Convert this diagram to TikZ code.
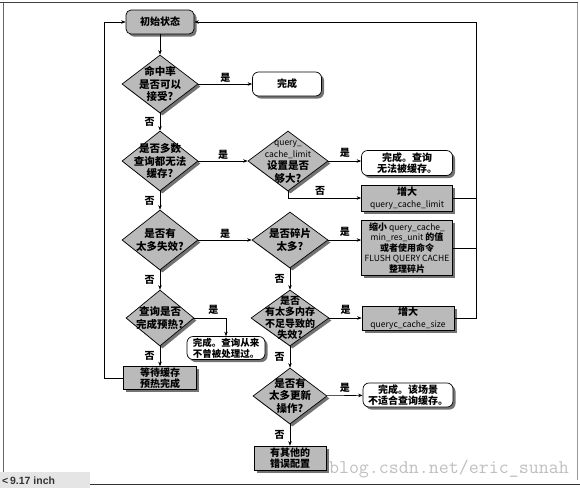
\documentclass[tikz,border=0pt]{standalone}
\usepackage{fontspec}
\setmainfont{Noto Sans CJK SC}
\newfontfamily\uifont{Liberation Sans}
\usetikzlibrary{shapes.geometric,shadows,arrows.meta}
\newcommand\latx{\fontsize{8.5}{10}\selectfont\mdseries}
\tikzset{
  shd/.style={drop shadow={shadow xshift=2.5pt,shadow yshift=-2.5pt,fill=black!55,opacity=1}},
  dia/.style={diamond,draw,fill=black!27,line width=0.7pt,inner sep=0pt,shd},
  dtext/.style={font=\fontsize{10.5}{12.3}\selectfont\bfseries,align=center,inner sep=0pt},
  grect/.style={rectangle,draw,fill=black!27,line width=0.7pt,inner sep=0pt,align=center,
    font=\fontsize{10}{11.5}\selectfont\bfseries,shd},
  wbox/.style={rectangle,rounded corners=6pt,draw,fill=white,line width=0.7pt,inner sep=0pt,
    align=center,font=\fontsize{10}{11.5}\selectfont\bfseries,shd},
  arr/.style={-{Stealth[length=4.5pt,width=3.5pt]},line width=0.6pt},
  ln/.style={line width=0.6pt},
  lbl/.style={font=\fontsize{10}{12}\selectfont\bfseries,inner sep=1pt}
}
\begin{document}
\begin{tikzpicture}[x=1pt,y=-1pt]
\useasboundingbox (0,0) rectangle (580,488);
% frame
\draw[line width=1pt,black!75] (0,2.5) -- (578,2.5);
\draw[line width=0.8pt,black!60] (3.5,2.5) -- (3.5,472);
\draw[line width=0.8pt,black!40] (577,2.5) -- (577,480);
\draw[line width=1pt,black!80] (90,484) -- (580,484);
\fill[black!10] (0,472) rectangle (90,488);
\node[font=\uifont\bfseries\fontsize{10.5}{11}\selectfont,text=black!80,anchor=west,inner sep=0pt] (inch) at (2,480.5) {<\,9.17 inch};

% watermark
\node[font=\ttfamily\fontsize{19.4}{20}\selectfont,text=black!25,anchor=base east,inner sep=0pt] (wm) at (569,473) {blog.csdn.net/eric\_sunah};

% nodes
\node[grect,rounded corners=5pt,minimum width=68pt,minimum height=24pt] (start) at (160,22) {初始状态};

\node[dia,minimum width=76pt,minimum height=58pt] (d1) at (160,84) {};
\node[dtext] (d1t) at (d1) {命中率\\是否可以\\接受?};
\node[wbox,minimum width=69pt,minimum height=24pt] (done1) at (287,84) {完成};

\node[dia,minimum width=76pt,minimum height=60pt] (d2) at (160,161) {};
\node[dtext] (d2t) at (d2) {是否多数\\查询都无法\\缓存?};

\node[dia,minimum width=80pt,minimum height=60pt] (d3) at (288,161) {};
\node[dtext] (d3t) at ([yshift=-1pt]d3) {{\latx query\_}\\{\latx cache\_limit}\\设置是否\\够大?};
\node[wbox,minimum width=91pt,minimum height=25pt] (done2) at (407,163) {完成。查询\\无法被缓存。};
\node[grect,minimum width=91pt,minimum height=26pt] (inc1) at (407,198) {增大\\{\latx query\_cache\_limit}};

\node[dia,minimum width=76pt,minimum height=60pt] (d4) at (160,240) {};
\node[dtext] (d4t) at (d4) {是否有\\太多失效?};

\node[dia,minimum width=76pt,minimum height=56pt] (d5) at (290,240) {};
\node[dtext] (d5t) at (d5) {是否碎片\\太多?};
\node[grect,minimum width=91pt,minimum height=55pt,font=\fontsize{9}{10.5}\selectfont\bfseries] (shrink) at (407,248)
  {缩小{\latx\ query\_cache\_}\\{\latx min\_res\_unit} 的值\\或者使用命令\\{\latx FLUSH QUERY CACHE}\\整理碎片};

\node[dia,minimum width=68pt,minimum height=56pt] (d7) at (160,318) {};
\node[dtext] (d7t) at (d7) {查询是否\\完成预热?};
\node[wbox,minimum width=78pt,minimum height=23pt,font=\fontsize{9.5}{11}\selectfont\bfseries] (done3) at (226,348) {完成。查询从来\\不曾被处理过。};
\node[grect,minimum width=73pt,minimum height=23pt] (wait) at (160,378) {等待缓存\\预热完成};

\node[dia,minimum width=78pt,minimum height=56pt] (d6) at (290,318) {};
\node[dtext,font=\fontsize{10}{11.5}\selectfont\bfseries] (d6t) at (d6) {是否\\有太多内存\\不足导致的\\失效?};
\node[grect,minimum width=92pt,minimum height=24pt] (inc2) at (408,318) {增大\\{\latx queryc\_cache\_size}};

\node[dia,minimum width=74pt,minimum height=56pt] (d8) at (290,396) {};
\node[dtext] (d8t) at (d8) {是否有\\太多更新\\操作?};
\node[wbox,minimum width=90pt,minimum height=24pt] (done4) at (408,395) {完成。该场景\\不适合查询缓存。};
\node[grect,minimum width=72pt,minimum height=24pt] (other) at (290,458) {有其他的\\错误配置};

\coordinate (rtop) at (476,22);
\coordinate (ltop) at (104,22);

% connectors
\draw[arr] (start) -- (d1);
\draw[arr] (d1) -- node[lbl,above]{是} (done1);
\draw[arr] (d1) -- node[lbl,left=4pt]{否} (d2);
\draw[arr] (d2) -- node[lbl,above]{是} (d3);
\draw[arr] (d2) -- node[lbl,left=4pt]{否} (d4);
\draw[arr] (d3.east) -- node[lbl,above=2pt]{是} (d3.east -| done2.west);
\draw[arr] (d3.south) |- node[lbl,above=1pt,pos=0.72]{否} (inc1.west);
\draw[arr] (d4) -- node[lbl,above]{是} (d5);
\draw[arr] (d4) -- node[lbl,left=4pt]{否} (d7);
\draw[arr] (d5.east) -- node[lbl,above=2pt]{是} (d5.east -| shrink.west);
\draw[arr] (d5) -- node[lbl,left=4pt]{否} (d6);
\draw[arr] (d6) -- node[lbl,above=2pt]{是} (inc2);
\draw[arr] (d6) -- node[lbl,left=4pt]{否} (d8);
\draw[arr] (d7.east) -| node[lbl,above=2pt,pos=0.3]{是} (done3.north);
\draw[arr] (d7) -- node[lbl,left=4pt]{否} (wait);
\draw[arr] (d8) -- node[lbl,above=2pt]{是} (done4);
\draw[arr] (d8) -- node[lbl,left=4pt]{否} (other);
\draw[arr] (wait.west) -| (ltop) -- (start.west);
\draw[arr] (inc2.east) -| (rtop) -- (start.east);
\draw[ln] (inc1.east) -- (inc1.east -| rtop);
\draw[ln] (shrink.east) -- (shrink.east -| rtop);
\end{tikzpicture}
\end{document}
